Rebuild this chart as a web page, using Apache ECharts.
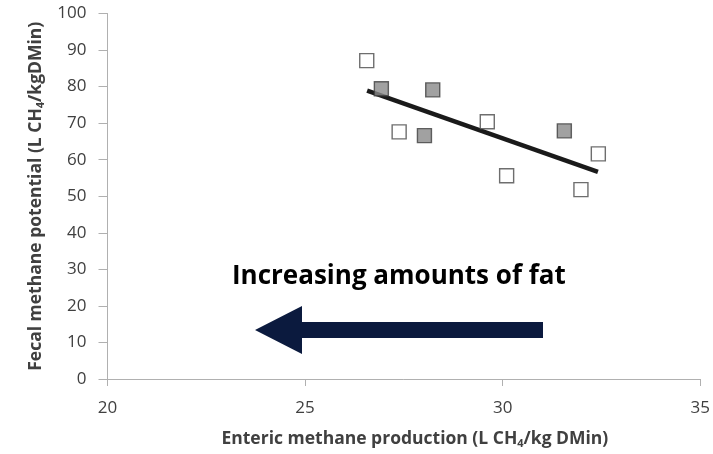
<!DOCTYPE html>
<html>
<head>
<meta charset="utf-8">
<script src="https://cdn.jsdelivr.net/npm/echarts@6/dist/echarts.min.js"></script>
<style>html,body{margin:0;padding:0;background:#fff;}#c{width:713px;height:454px;}</style>
</head>
<body>
<div id="c"></div>
<script>
var openX = [26.56, 27.38, 29.61, 30.10, 31.98, 32.42];
var openY = [87.1, 67.6, 70.4, 55.6, 51.8, 61.6];
var filledX = [26.93, 28.23, 28.02, 31.56];
var filledY = [79.4, 79.1, 66.6, 67.9];
var trendX = [26.57, 32.41];
var trendY = [78.9, 56.7];
var xTicks = [20, 25, 30, 35];
var yTicks = [0, 10, 20, 30, 40, 50, 60, 70, 80, 90, 100];
var annotationText = 'Increasing amounts of fat';

function zip(a, b) { return a.map(function (v, i) { return [v, b[i]]; }); }

var chart = echarts.init(document.getElementById('c'));
var font = '"Open Sans", "Liberation Sans", sans-serif';
chart.setOption({
  animation: false,
  grid: { left: 107.5, right: 9.5, top: 13.5, bottom: 73.5 },
  xAxis: {
    type: 'value', min: xTicks[0], max: xTicks[xTicks.length - 1], interval: 5,
    axisLine: { show: true, lineStyle: { color: '#b0b0b0', width: 1 } },
    axisTick: { show: true, length: 7, lineStyle: { color: '#b0b0b0' } },
    splitLine: { show: false },
    axisLabel: { color: '#404040', fontSize: 17, fontFamily: font, margin: 21 },
    name: '{b|Enteric methane production (L CH}{s|4}{b|/kg DMin)}',
    nameLocation: 'middle', nameGap: 50,
    nameTextStyle: {
      padding: [0, 0, 0, 22],
      rich: {
        b: { fontSize: 17.5, fontWeight: 'bold', color: '#404040', fontFamily: font },
        s: { fontSize: 11, fontWeight: 'bold', color: '#404040', fontFamily: font, padding: [9, 0, 0, 0] }
      }
    }
  },
  yAxis: {
    type: 'value', min: yTicks[0], max: yTicks[yTicks.length - 1], interval: 10,
    axisLine: { show: true, lineStyle: { color: '#b0b0b0', width: 1 } },
    axisTick: { show: true, length: 9, lineStyle: { color: '#b0b0b0' } },
    splitLine: { show: false },
    axisLabel: { color: '#404040', fontSize: 17, fontFamily: font, margin: 21 },
    name: '{b|Fecal methane potential (L CH}{s|4}{b|/kgDMin)}',
    nameLocation: 'middle', nameGap: 60,
    nameTextStyle: {
      rich: {
        b: { fontSize: 17.5, fontWeight: 'bold', color: '#404040', fontFamily: font },
        s: { fontSize: 11, fontWeight: 'bold', color: '#404040', fontFamily: font, padding: [9, 0, 0, 0] }
      }
    }
  },
  series: [
    {
      type: 'line', data: zip(trendX, trendY), showSymbol: false, z: 3,
      lineStyle: { color: '#1a1a1a', width: 4.5 }
    },
    {
      type: 'scatter', data: zip(openX, openY), symbol: 'rect', symbolSize: 14, z: 4,
      itemStyle: { color: '#ffffff', borderColor: '#4a4a4a', borderWidth: 1.4 }
    },
    {
      type: 'scatter', data: zip(filledX, filledY), symbol: 'rect', symbolSize: 14, z: 4,
      itemStyle: { color: '#8a8a8a', borderColor: '#404040', borderWidth: 1.4 }
    }
  ],
  graphic: [
    {
      type: 'text', left: 232, top: 264, z: 10,
      style: { text: annotationText, font: 'bold 26px ' + font, fill: '#000000' }
    },
    {
      type: 'polygon', z: 10,
      shape: { points: [[255, 330], [302, 306], [302, 322], [543, 322], [543, 338], [302, 338], [302, 354]] },
      style: { fill: '#0b1a3e' }
    }
  ]
});
</script>
</body>
</html>
